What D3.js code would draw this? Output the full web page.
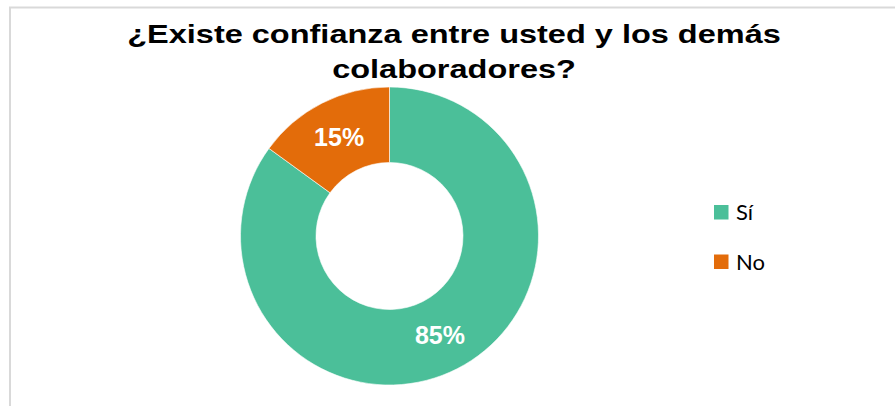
<!DOCTYPE html>
<html>
<head>
<meta charset="utf-8">
<script src="https://cdn.jsdelivr.net/npm/d3@7"></script>
<style>
  html, body { margin: 0; padding: 0; background: #fff; }
  svg { display: block; }
</style>
</head>
<body>
<svg id="chart" width="895" height="406"></svg>
<script>
// Survey answers and their shares (percent)
const categories = ["Sí", "No"];
const values = [85, 15];
const colors = ["#4BBF99", "#E36C0A"];
const titleLines = ["¿Existe confianza entre usted y los demás", "colaboradores?"];

const svg = d3.select("#chart");

// Chart frame
svg.append("rect")
  .attr("x", 10).attr("y", 7.5)
  .attr("width", 900).attr("height", 420)
  .attr("fill", "#fff")
  .attr("stroke", "#d9d9d9")
  .attr("stroke-width", 2);

// Title (horizontally widened lettering)
const titleX = 454, titleStretch = 1.3;
svg.append("g")
  .attr("transform", `translate(${titleX},0) scale(${titleStretch},1)`)
  .append("text")
  .attr("text-anchor", "middle")
  .attr("font-family", "'Liberation Sans', Arial, sans-serif")
  .attr("font-weight", "bold")
  .attr("font-size", 25)
  .attr("fill", "#000")
  .selectAll("tspan")
  .data(titleLines)
  .join("tspan")
  .attr("x", 0)
  .attr("y", (d, i) => 43 + i * 35)
  .text(d => d);

// Donut
const cx = 389.5, cy = 236, outerR = 149, innerR = 73.5;
const pie = d3.pie().sort(null).value(d => d.value);
const data = categories.map((c, i) => ({ cat: c, value: values[i], color: colors[i] }));
const arcs = pie(data);
const arc = d3.arc().innerRadius(innerR).outerRadius(outerR);
const labelArc = d3.arc().innerRadius(111).outerRadius(111);

const g = svg.append("g").attr("transform", `translate(${cx},${cy})`);
g.selectAll("path")
  .data(arcs)
  .join("path")
  .attr("d", arc)
  .attr("fill", d => d.data.color)
  .attr("stroke", "#fff")
  .attr("stroke-width", 0.6);

g.selectAll("text")
  .data(arcs)
  .join("text")
  .attr("transform", d => `translate(${labelArc.centroid(d)})`)
  .attr("text-anchor", "middle")
  .attr("dy", "0.35em")
  .attr("font-family", "'Liberation Sans', Arial, sans-serif")
  .attr("font-weight", "bold")
  .attr("font-size", 25)
  .attr("fill", "#fff")
  .text(d => d.data.value + "%");

// Legend
const legend = svg.append("g").attr("transform", "translate(714,205)");
const item = legend.selectAll("g")
  .data(data)
  .join("g")
  .attr("transform", (d, i) => `translate(0,${i * 49.5})`);
item.append("rect")
  .attr("width", 14.5).attr("height", 14.5)
  .attr("fill", d => d.color);
item.append("text")
  .attr("x", 22).attr("y", 15)
  .attr("font-family", "Lato, 'Open Sans', sans-serif")
  .attr("font-size", 22)
  .attr("fill", "#000")
  .text(d => d.cat);
</script>
</body>
</html>
